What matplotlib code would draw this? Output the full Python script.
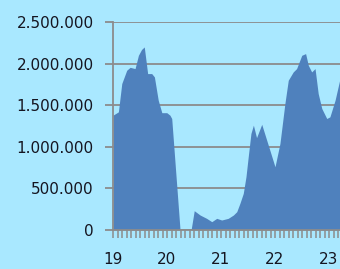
import matplotlib
matplotlib.use("Agg")
import matplotlib.pyplot as plt
from matplotlib.ticker import FixedLocator, MultipleLocator, FuncFormatter

# time in hours since day 19, 00:00
hours = [0, 2.4, 3.9, 6.1, 7.6, 9.8, 11.3, 12.7, 13.9, 15.4, 17.2, 18.4, 20.1, 21.7,
         23.9, 25.3, 26.1, 29.8, 34.7, 36.1, 38.7, 41.6, 43.9, 46.1, 48.3, 51.2,
         53.5, 55.0, 56.4, 57.9, 59.1, 60.1, 61.3, 62.4, 63.8, 66.1, 69.0, 72.0,
         74.2, 76.4, 77.9, 80.1, 81.6, 83.9, 85.6, 86.8, 88.3, 89.8, 91.2, 92.8,
         95.0, 96.4, 98.7, 100.9, 103.1]
values = [1380000, 1420000, 1760000, 1920000, 1955000, 1940000, 2100000, 2170000,
          2200000, 1880000, 1880000, 1840000, 1560000, 1410000, 1410000, 1380000,
          1340000, 0, 0, 232000, 180000, 140000, 100000, 140000, 120000, 140000,
          180000, 220000, 320000, 440000, 640000, 880000, 1160000, 1260000, 1110000,
          1270000, 1020000, 760000, 1040000, 1520000, 1800000, 1900000, 1940000,
          2100000, 2120000, 1980000, 1900000, 1940000, 1640000, 1460000, 1340000,
          1360000, 1560000, 1820000, 2000000]
day_labels = ["19", "20", "21", "22", "23"]
y_ticks = [0, 500000, 1000000, 1500000, 2000000, 2500000]

bg = "#A9E8FF"
fill_c = "#4F81BD"
grid_c = "#8C8C8C"

days = [19 + h / 24 for h in hours]

fig = plt.figure(figsize=(3.4, 2.69), dpi=100, facecolor=bg)
W, H = 340, 269
ax = fig.add_axes([113 / W, 39 / H, (340 - 113) / W, 208 / H])
ax.set_facecolor(bg)

ax.fill_between(days, values, 0, color=fill_c, linewidth=0, zorder=3)

ax.set_ylim(0, 2500000)
ax.set_xlim(19, 19 + (340 - 113) / 54)

ax.yaxis.set_major_locator(FixedLocator(y_ticks))
ax.yaxis.set_major_formatter(FuncFormatter(lambda v, p: f"{int(v):,}".replace(",", ".")))
ax.xaxis.set_major_locator(FixedLocator([19 + i for i in range(len(day_labels))]))
ax.set_xticklabels(day_labels)
ax.xaxis.set_minor_locator(MultipleLocator(1 / 12))

ax.grid(axis="y", color=grid_c, linewidth=1.3, zorder=1)
ax.set_axisbelow(True)

for s in ["top", "right"]:
    ax.spines[s].set_visible(False)
for s in ["left", "bottom"]:
    ax.spines[s].set_color(grid_c)
    ax.spines[s].set_linewidth(1.3)
    ax.spines[s].set_zorder(4)

ax.tick_params(axis="y", length=6, width=1.3, color=grid_c, pad=8,
               labelsize=11, labelcolor="#151520")
ax.tick_params(axis="x", which="both", length=6, width=1.1, color=grid_c, pad=10,
               labelsize=11, labelcolor="#151520")

fig.savefig("out.png", dpi=100, facecolor=bg)
